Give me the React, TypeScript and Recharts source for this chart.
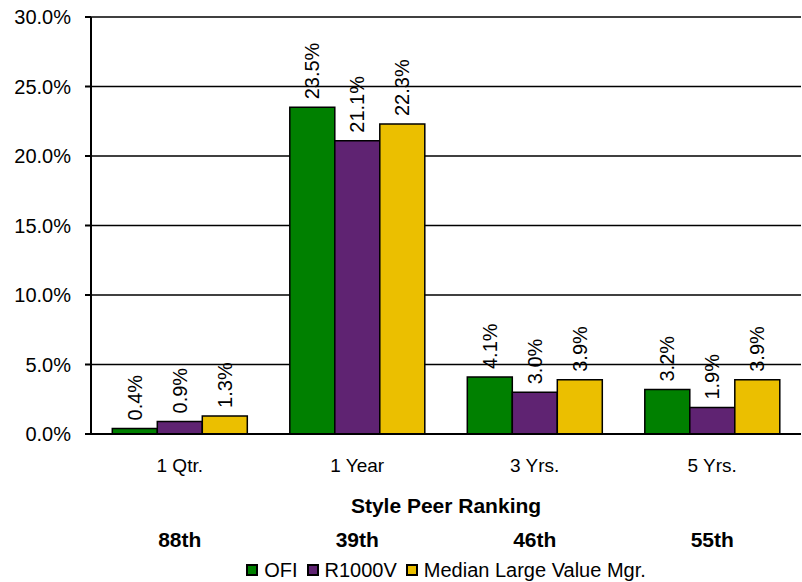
import React from 'react';
import { BarChart, Bar, XAxis, YAxis, CartesianGrid, LabelList, Legend, Label } from 'recharts';

const categories = ['1 Qtr.', '1 Year', '3 Yrs.', '5 Yrs.'];
const rankings = ['88th', '39th', '46th', '55th'];
const ofi = [0.4, 23.5, 4.1, 3.2];
const r1000v = [0.9, 21.1, 3.0, 1.9];
const median = [1.3, 22.3, 3.9, 3.9];
const yTicks = [0, 5, 10, 15, 20, 25, 30];

const seriesNames = ['OFI', 'R1000V', 'Median Large Value Mgr.'];
const seriesColors = ['#008000', '#5F2372', '#EBBF00'];

const data = categories.map((c, i) => ({
  name: c,
  rank: rankings[i],
  ofi: ofi[i],
  r1000v: r1000v[i],
  median: median[i],
}));

const FONT = '"Liberation Sans", Arial, sans-serif';

const CategoryTick = (props: any) => {
  const { x, y, payload, index } = props;
  return (
    <g>
      <text x={x} y={y} dy={31} textAnchor="middle" dominantBaseline="central" fontSize={19} fontFamily={FONT} fill="#000">
        {payload.value}
      </text>
      <text x={x} y={y} dy={105} textAnchor="middle" dominantBaseline="central" fontSize={21} fontWeight="bold" fontFamily={FONT} fill="#000">
        {rankings[index]}
      </text>
    </g>
  );
};

const BarValueLabel = (props: any) => {
  const { x, y, width, value } = props;
  const cx = Number(x) + Number(width) / 2;
  const ty = Number(y) - 8;
  return (
    <text
      x={cx}
      y={ty}
      transform={`rotate(-90 ${cx} ${ty})`}
      textAnchor="start"
      dominantBaseline="central"
      fontSize={20}
      fontFamily={FONT}
      fill="#000"
    >
      {Number(value).toFixed(1)}%
    </text>
  );
};

const LegendContent = () => (
  <div
    style={{
      width: 802,
      paddingLeft: 90,
      boxSizing: 'border-box',
      display: 'flex',
      justifyContent: 'center',
      alignItems: 'center',
      height: 24,
      fontFamily: FONT,
      fontSize: 20,
      color: '#000',
    }}
  >
    {seriesNames.map((n, i) => (
      <span key={n} style={{ display: 'flex', alignItems: 'center', marginRight: i < 2 ? 9 : 0 }}>
        <span
          style={{
            display: 'inline-block',
            width: 8,
            height: 8,
            background: seriesColors[i],
            border: '2px solid #000',
            marginRight: 6,
          }}
        />
        <span>{n}</span>
      </span>
    ))}
  </div>
);

export default function App() {
  return (
    <div style={{ position: 'absolute', left: 0, top: 0, width: 802, height: 582, background: '#fff' }}>
      <BarChart
        width={802}
        height={582}
        data={data}
        margin={{ top: 17, right: 1, left: 0, bottom: 0 }}
        barCategoryGap="12%"
        barGap={0}
      >
        <CartesianGrid vertical={false} stroke="#000" strokeWidth={1.5} />
        <XAxis
          dataKey="name"
          height={124}
          axisLine={{ stroke: '#000', strokeWidth: 2 }}
          tickLine={false}
          tickSize={0}
          tickMargin={0}
          interval={0}
          tick={<CategoryTick />}
        >
          <Label
            content={(p: any) => {
              const vb = p.viewBox || {};
              return (
                <text
                  x={vb.x + vb.width / 2}
                  y={vb.y + 71}
                  textAnchor="middle"
                  dominantBaseline="central"
                  fontSize={21}
                  fontWeight="bold"
                  fontFamily={FONT}
                  fill="#000"
                >
                  Style Peer Ranking
                </text>
              );
            }}
          />
        </XAxis>
        <YAxis
          width={91}
          domain={[0, 30]}
          ticks={yTicks}
          interval={0}
          tickFormatter={(v: number) => `${v.toFixed(1)}%`}
          axisLine={{ stroke: '#000', strokeWidth: 2 }}
          tickLine={{ stroke: '#000', strokeWidth: 2 }}
          tickSize={6}
          tickMargin={14}
          tick={{ fontSize: 20, fontFamily: FONT, fill: '#000' }}
        />
        <Legend verticalAlign="bottom" height={24} content={<LegendContent />} wrapperStyle={{ left: 0, bottom: 0 }} />
        <Bar dataKey="ofi" name={seriesNames[0]} fill={seriesColors[0]} stroke="#000" strokeWidth={1.5} isAnimationActive={false}>
          <LabelList dataKey="ofi" content={<BarValueLabel />} />
        </Bar>
        <Bar dataKey="r1000v" name={seriesNames[1]} fill={seriesColors[1]} stroke="#000" strokeWidth={1.5} isAnimationActive={false}>
          <LabelList dataKey="r1000v" content={<BarValueLabel />} />
        </Bar>
        <Bar dataKey="median" name={seriesNames[2]} fill={seriesColors[2]} stroke="#000" strokeWidth={1.5} isAnimationActive={false}>
          <LabelList dataKey="median" content={<BarValueLabel />} />
        </Bar>
      </BarChart>
    </div>
  );
}
